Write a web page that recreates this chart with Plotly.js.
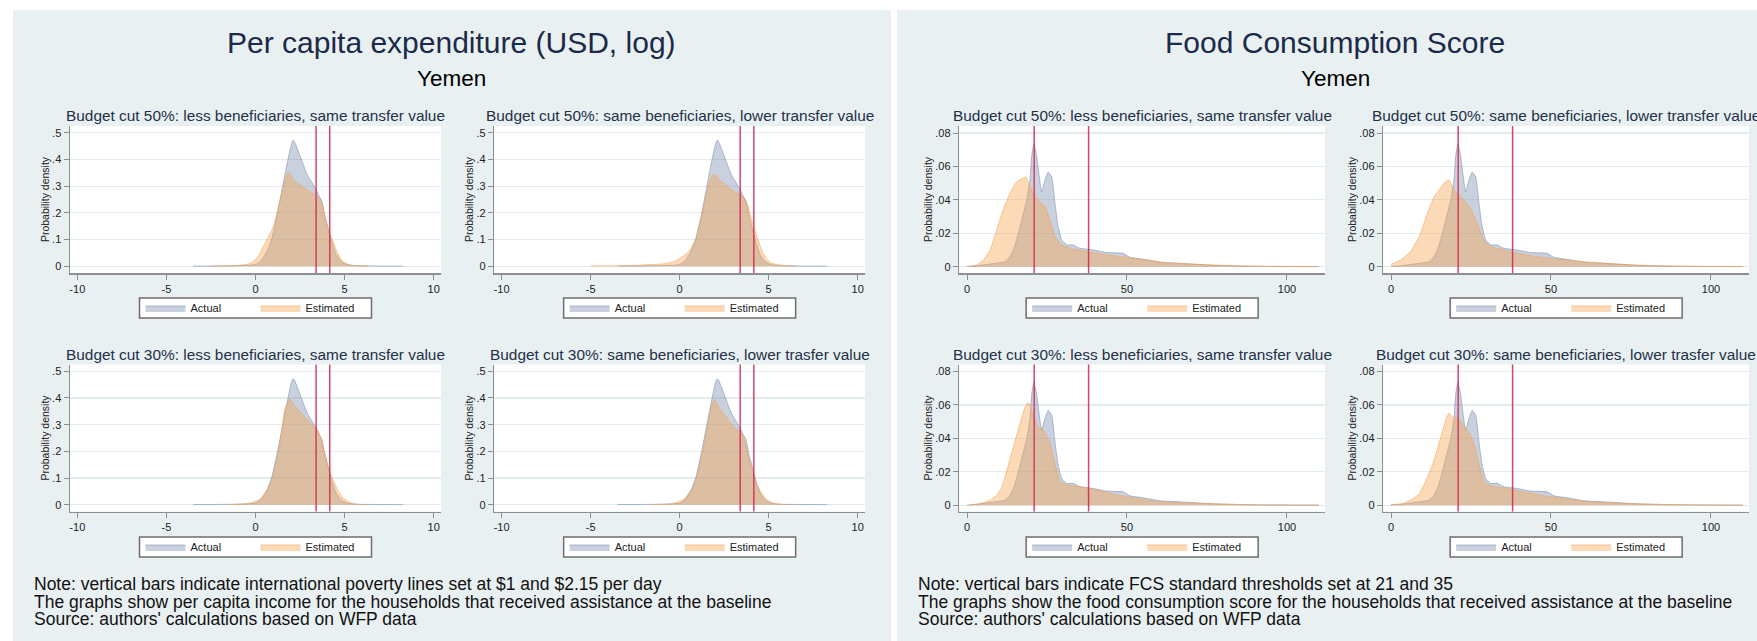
<!DOCTYPE html>
<html><head><meta charset="utf-8">
<script src="https://cdn.plot.ly/plotly-3.0.1.min.js"></script>
<style>html,body{margin:0;padding:0;background:#fff;}#chart{width:1757px;height:641px;}</style>
</head><body><div id="chart"></div>
<script>
// ---------------- DATA ----------------
const panelTitles = ["Per capita expenditure (USD, log)", "Food Consumption Score"];
const countryName = "Yemen";
const scenarioTitles = [
  "Budget cut 50%: less beneficiaries, same transfer value",
  "Budget cut 50%: same beneficiaries, lower transfer value",
  "Budget cut 30%: less beneficiaries, same transfer value",
  "Budget cut 30%: same beneficiaries, lower trasfer value"
];
const seriesNames = ["Actual", "Estimated"];
const yAxisTitle = "Probability density";
const povertyLines = [3.401, 4.166];
const fcsThresholds = [21, 38];
const expTickVals = [-10, -5, 0, 5, 10];
const expTickLabels = ["-10", "-5", "0", "5", "10"];
const fcsTickVals = [0, 50, 100];
const fcsTickLabels = ["0", "50", "100"];
const expDensityTicks = [0, 0.1, 0.2, 0.3, 0.4, 0.5];
const expDensityLabels = ["0", ".1", ".2", ".3", ".4", ".5"];
const fcsDensityTicks = [0, 0.02, 0.04, 0.06, 0.08];
const fcsDensityLabels = ["0", ".02", ".04", ".06", ".08"];
const expNotes = [
  "Note: vertical bars indicate international poverty lines set at $1 and $2.15 per day",
  "The graphs show per capita income for the households that received assistance at the baseline",
  "Source: authors' calculations based on WFP data"
];
const fcsNotes = [
  "Note: vertical bars indicate FCS standard thresholds set at 21 and 35",
  "The graphs show the food consumption score for the households that received assistance at the baseline",
  "Source: authors' calculations based on WFP data"
];

// Per capita expenditure (log) densities
const expActualX = [-3.5,-2,-1,-0.5,0,0.3,0.63,0.9,1.09,1.3,1.5,1.7,1.84,1.95,2.05,2.12,2.2,2.35,2.59,2.8,2.96,3.2,3.43,3.55,3.72,3.9,4.05,4.18,4.35,4.55,4.8,5.02,5.3,5.8,6.5,7.5,8.3];
const expActualY = [0.0005,0.001,0.002,0.003,0.006,0.02,0.054,0.1,0.154,0.22,0.29,0.36,0.405,0.44,0.465,0.472,0.465,0.44,0.398,0.36,0.336,0.31,0.283,0.265,0.245,0.185,0.15,0.115,0.075,0.04,0.018,0.009,0.004,0.0015,0.001,0.0005,0.0002];
const expEst50LessX = [-2.5,-1.2,-0.6,-0.31,0,0.25,0.45,0.63,0.8,1.0,1.15,1.28,1.42,1.56,1.7,1.84,1.95,2.1,2.3,2.5,2.8,3.0,3.24,3.45,3.62,3.78,3.9,4.1,4.37,4.6,4.93,5.3,5.68,6.3];
const expEst50LessY = [0.0005,0.002,0.006,0.01,0.025,0.048,0.075,0.098,0.12,0.148,0.185,0.223,0.26,0.298,0.33,0.351,0.345,0.325,0.312,0.305,0.29,0.282,0.273,0.262,0.248,0.22,0.185,0.135,0.09,0.05,0.016,0.005,0.0015,0.0003];
const expEst50LowerX = [-5,-3,-1.9,-0.75,-0.3,0,0.25,0.5,0.7,0.91,1.05,1.22,1.38,1.54,1.7,1.85,1.95,2.1,2.3,2.58,2.85,3.09,3.3,3.5,3.65,3.82,3.98,4.13,4.3,4.44,4.65,4.86,5.1,5.5,6.0,6.5];
const expEst50LowerY = [0.001,0.002,0.005,0.01,0.018,0.029,0.04,0.054,0.075,0.104,0.14,0.179,0.23,0.28,0.32,0.34,0.345,0.335,0.318,0.305,0.29,0.28,0.272,0.265,0.25,0.23,0.19,0.154,0.12,0.091,0.055,0.029,0.014,0.006,0.002,0.0005];
const expEst30LessX = [-1.5,-0.62,-0.2,0.21,0.45,0.72,0.9,1.04,1.2,1.35,1.5,1.62,1.75,1.85,1.93,2.05,2.25,2.49,2.75,3.0,3.25,3.48,3.62,3.77,3.9,4.05,4.3,4.57,4.85,5.19,5.5,5.8,6.2];
const expEst30LessY = [0.0005,0.003,0.008,0.019,0.035,0.062,0.09,0.124,0.17,0.224,0.29,0.348,0.375,0.39,0.395,0.385,0.365,0.348,0.33,0.311,0.295,0.28,0.26,0.224,0.19,0.149,0.1,0.062,0.03,0.012,0.004,0.001,0.0002];
const expEst30LowerX = [-1.5,-0.5,0.22,0.5,0.79,1.0,1.16,1.35,1.53,1.7,1.82,1.94,2.05,2.2,2.46,2.75,3.02,3.25,3.49,3.65,3.86,4.05,4.24,4.5,4.8,5.1,5.45,6.0];
const expEst30LowerY = [0.0005,0.003,0.019,0.04,0.068,0.11,0.156,0.22,0.28,0.34,0.375,0.392,0.385,0.365,0.342,0.315,0.292,0.28,0.267,0.24,0.18,0.135,0.093,0.055,0.025,0.01,0.003,0.0005];

// Food Consumption Score densities
const fcsActualX = [0,3,7.2,11.9,13.4,14.5,15.5,17.1,18.7,19.7,20.2,20.9,21.8,22.6,23.3,24.4,25.4,26.5,27.5,28.5,29.6,31.2,33.2,35.3,39.5,43.6,48.8,50.9,55.1,60.3,66.6,77,87.4,100,110];
const fcsActualY = [0.0001,0.0005,0.0016,0.003,0.006,0.01,0.016,0.028,0.04,0.052,0.066,0.0737,0.066,0.0537,0.0448,0.052,0.0567,0.0537,0.0378,0.0239,0.016,0.013,0.013,0.011,0.01,0.0084,0.008,0.0056,0.0044,0.0026,0.002,0.0008,0.0003,0.0001,0.00005];
const fcsEst50LessX = [0.5,3,5.1,7.2,9.3,11.3,13.4,15.5,18.4,19.7,20.9,22.8,24.4,25.9,27.5,29.6,32.2,37.4,43.6,49.9,56.1,62.4,71.8,82.2,97.9,110];
const fcsEst50LessY = [0.0001,0.001,0.004,0.01,0.022,0.034,0.0438,0.0507,0.0537,0.0478,0.0428,0.0388,0.0358,0.0279,0.0179,0.013,0.011,0.009,0.007,0.0056,0.004,0.0024,0.0014,0.0006,0.0001,0.00003];
const fcsEst50LowerX = [0,3,6.1,8.8,11.4,13.5,14.7,16.6,18.1,19.6,21.2,22.8,24.9,26.9,29,31.1,35.2,39.4,45.6,51.9,60.2,70.6,81,95.5,110];
const fcsEst50LowerY = [0.0015,0.004,0.009,0.018,0.032,0.042,0.045,0.05,0.0518,0.046,0.0428,0.0398,0.035,0.026,0.016,0.012,0.01,0.008,0.006,0.0044,0.003,0.0016,0.0006,0.0002,0.00003];
const fcsEst30LessX = [0.7,4.1,7.3,9.3,10.9,12.5,14.5,16.6,18.2,19.2,20.2,21.3,22.3,23.4,24.4,26,27.5,29.1,31.2,35.3,40.5,45.7,52,58.2,66.5,76.9,87.3,110];
const fcsEst30LessY = [0.0001,0.001,0.003,0.006,0.011,0.021,0.035,0.049,0.059,0.0614,0.057,0.051,0.046,0.046,0.043,0.037,0.025,0.014,0.012,0.011,0.009,0.0066,0.0044,0.0024,0.0014,0.0008,0.0002,0.00003];
const fcsEst30LowerX = [0,3.7,7,8.9,11,13.1,14.7,16.2,17.3,18.1,19.4,20.9,22.5,24.5,26.1,27.7,29.2,31.3,36,41.2,47.4,53.6,62,72.3,84.8,110];
const fcsEst30LowerY = [0.0003,0.001,0.004,0.007,0.015,0.025,0.035,0.045,0.052,0.055,0.0526,0.052,0.048,0.043,0.036,0.023,0.014,0.0114,0.01,0.008,0.0056,0.004,0.002,0.001,0.0004,0.00003];

// ---------------- LAYOUT / STYLE ----------------
const W = 1757, H = 641;
const FONT = 'Liberation Sans, Arial, Helvetica, sans-serif';
const colPx = [[70, 441], [494.3, 865], [959.3, 1325], [1383.3, 1749]];
const rowPx = [[126, 273], [364.5, 511.5]];
const legendBoxTopPx = [298, 537];
const legendBoxSize = [232, 20];
const subTitlePx = [116, 354.3];
const panelCenterPx = [451.5, 1335];
const noteLeftPx = [31.7, 916];
const noteLinePx = [584, 601.7, 619.4];

const actualFill = 'rgba(120,140,172,0.4)';
const actualLine = 'rgba(120,140,172,0.55)';
const estFill = 'rgba(250,162,75,0.4)';
const estLine = 'rgba(246,160,80,0.55)';
const refLineColor = 'rgba(208,38,78,0.85)';
const axisColor = '#8f8f8f';

const panels = [
  { xRange: [-10.41, 10.41], xTicks: expTickVals, xLabels: expTickLabels, yRange: [-0.0255, 0.5255],
    yTicks: expDensityTicks, yLabels: expDensityLabels, smooth: 0.6,
    actual: [expActualX, expActualY],
    est: [[expEst50LessX, expEst50LessY], [expEst50LowerX, expEst50LowerY],
          [expEst30LessX, expEst30LessY], [expEst30LowerX, expEst30LowerY]],
    vlines: povertyLines, notes: expNotes },
  { xRange: [-2.41, 111.9], xTicks: fcsTickVals, xLabels: fcsTickLabels, yRange: [-0.0038, 0.0842],
    yTicks: fcsDensityTicks, yLabels: fcsDensityLabels, smooth: 0.4,
    actual: [fcsActualX, fcsActualY],
    est: [[fcsEst50LessX, fcsEst50LessY], [fcsEst50LowerX, fcsEst50LowerY],
          [fcsEst30LessX, fcsEst30LessY], [fcsEst30LowerX, fcsEst30LowerY]],
    vlines: fcsThresholds, notes: fcsNotes }
];

const data = [];
const layout = {
  width: W, height: H,
  margin: {l: 0, r: 0, t: 0, b: 0},
  paper_bgcolor: '#e9f0f2',
  plot_bgcolor: '#ffffff',
  font: {family: FONT, color: '#222'},
  showlegend: true,
  shapes: [
    {type: 'rect', xref: 'paper', yref: 'paper', x0: 0, x1: 1, y0: 1 - 10 / H, y1: 1, fillcolor: '#ffffff', line: {width: 0}, layer: 'below'},
    {type: 'rect', xref: 'paper', yref: 'paper', x0: 0, x1: 13 / W, y0: 0, y1: 1, fillcolor: '#ffffff', line: {width: 0}, layer: 'below'},
    {type: 'rect', xref: 'paper', yref: 'paper', x0: 891 / W, x1: 897 / W, y0: 0, y1: 1, fillcolor: '#ffffff', line: {width: 0}, layer: 'below'}
  ],
  annotations: []
};

panels.forEach((p, pi) => {
  layout.annotations.push({xref: 'paper', yref: 'paper', x: panelCenterPx[pi] / W, y: 1 - 42.7 / H,
    text: panelTitles[pi], showarrow: false, xanchor: 'center', yanchor: 'middle',
    font: {family: FONT, size: 30, color: '#1b2a48'}});
  layout.annotations.push({xref: 'paper', yref: 'paper', x: panelCenterPx[pi] / W, y: 1 - 78.3 / H,
    text: countryName, showarrow: false, xanchor: 'center', yanchor: 'middle',
    font: {family: FONT, size: 22.5, color: '#000'}});
  p.notes.forEach((t, li) => {
    layout.annotations.push({xref: 'paper', yref: 'paper', x: noteLeftPx[pi] / W, y: 1 - noteLinePx[li] / H,
      text: t, showarrow: false, xanchor: 'left', yanchor: 'middle',
      font: {family: FONT, size: 17.5, color: '#111'}});
  });

  for (let s = 0; s < 4; s++) {
    const row = s >> 1, col = pi * 2 + (s & 1);
    const k = pi * 4 + s + 1;
    const sfx = k === 1 ? '' : String(k);
    const xa = 'x' + sfx, ya = 'y' + sfx, lg = 'legend' + sfx;
    const cx = (colPx[col][0] + colPx[col][1]) / 2;

    layout['xaxis' + sfx] = {
      domain: [colPx[col][0] / W, colPx[col][1] / W], anchor: ya,
      range: p.xRange, tickvals: p.xTicks, ticktext: p.xLabels, ticks: 'outside', ticklen: 5, tickwidth: 1,
      tickcolor: axisColor, showline: true, linecolor: axisColor, linewidth: 1.5,
      showgrid: false, zeroline: false, fixedrange: true,
      tickfont: {family: FONT, size: 11, color: '#222'}
    };
    layout['yaxis' + sfx] = {
      domain: [1 - rowPx[row][1] / H, 1 - rowPx[row][0] / H], anchor: xa,
      range: p.yRange, tickvals: p.yTicks, ticktext: p.yLabels, ticks: 'outside', ticklen: 5,
      tickwidth: 1, tickcolor: axisColor, showline: true, linecolor: axisColor, linewidth: 1.5,
      showgrid: true, gridcolor: '#e2ebee', gridwidth: 1.2, zeroline: false, fixedrange: true,
      tickfont: {family: FONT, size: 11, color: '#222'},
      title: {text: yAxisTitle, font: {family: FONT, size: 10.5, color: '#222'}, standoff: 0}
    };

    // legend frame (white box with grey border), legend itself transparent inside it
    const boxTop = legendBoxTopPx[row];
    layout.shapes.push({type: 'rect', xref: 'paper', yref: 'paper',
      x0: (cx - legendBoxSize[0] / 2) / W, x1: (cx + legendBoxSize[0] / 2) / W,
      y0: 1 - (boxTop + legendBoxSize[1]) / H, y1: 1 - boxTop / H,
      fillcolor: '#ffffff', line: {color: '#6e6e6e', width: 1.5}, layer: 'above'});
    layout[lg] = {
      orientation: 'h', x: cx / W, y: 1 - (boxTop + legendBoxSize[1] / 2 - 14.5) / H,
      xanchor: 'center', yanchor: 'top',
      bgcolor: 'rgba(0,0,0,0)', borderwidth: 0,
      font: {family: FONT, size: 11, color: '#222'}, entrywidth: 60, entrywidthmode: 'pixels',
      itemwidth: 40, traceorder: 'normal', itemclick: false, itemdoubleclick: false
    };

    data.push({type: 'scatter', mode: 'lines', name: seriesNames[0], x: p.actual[0], y: p.actual[1],
      xaxis: xa, yaxis: ya, legend: lg, showlegend: true, fill: 'tozeroy', fillcolor: actualFill,
      line: {color: actualLine, width: 1, shape: 'spline', smoothing: p.smooth}, hoverinfo: 'skip'});
    data.push({type: 'scatter', mode: 'lines', name: seriesNames[1], x: p.est[s][0], y: p.est[s][1],
      xaxis: xa, yaxis: ya, legend: lg, showlegend: true, fill: 'tozeroy', fillcolor: estFill,
      line: {color: estLine, width: 1, shape: 'spline', smoothing: p.smooth}, hoverinfo: 'skip'});

    p.vlines.forEach(v => layout.shapes.push({type: 'line', xref: xa, yref: ya + ' domain',
      x0: v, x1: v, y0: 0, y1: 1, line: {color: refLineColor, width: 1.5}, layer: 'above'}));

    layout.annotations.push({xref: 'paper', yref: 'paper', x: cx / W, y: 1 - subTitlePx[row] / H,
      text: scenarioTitles[s], showarrow: false, xanchor: 'center', yanchor: 'middle',
      font: {family: FONT, size: 15.4, color: '#243048'}});
  }
});

Plotly.newPlot('chart', data, layout, {staticPlot: true, displayModeBar: false});
</script>
</body></html>
